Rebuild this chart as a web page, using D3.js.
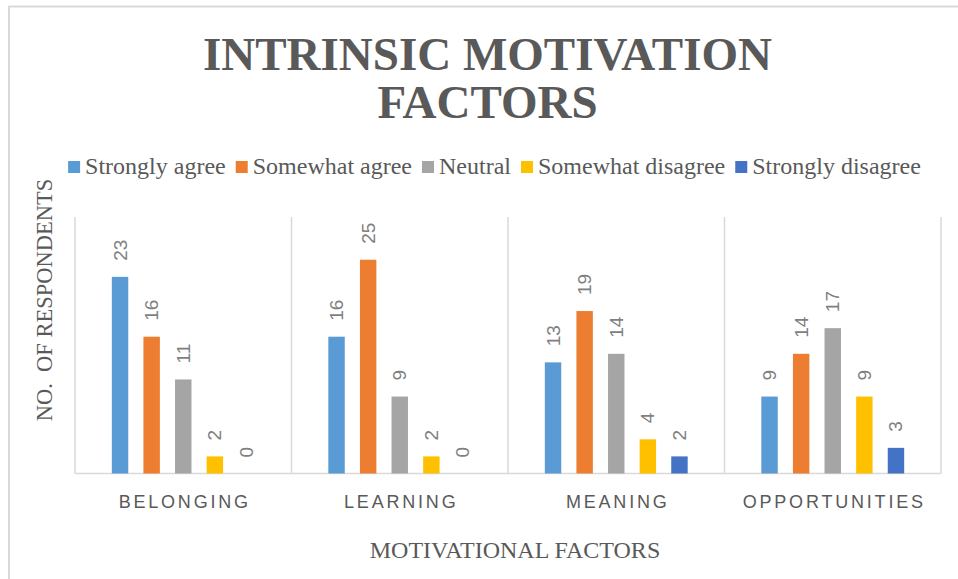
<!DOCTYPE html>
<html>
<head>
<meta charset="utf-8">
<script src="https://cdn.jsdelivr.net/npm/d3@7"></script>
<style>
  body { margin: 0; background: #fff; }
  svg { display: block; }
</style>
</head>
<body>
<script>
// data
const categories = ["BELONGING", "LEARNING", "MEANING", "OPPORTUNITIES"]
const series = ["Strongly agree", "Somewhat agree", "Neutral", "Somewhat disagree", "Strongly disagree"]
const colors = ["#5b9bd5", "#ed7d31", "#a5a5a5", "#ffc000", "#4472c4"]
const stronglyAgree = [23, 16, 13, 9]
const somewhatAgree = [16, 25, 19, 14]
const neutral = [11, 9, 14, 17]
const somewhatDisagree = [2, 2, 4, 9]
const stronglyDisagree = [0, 0, 2, 3]
const values = [stronglyAgree, somewhatAgree, neutral, somewhatDisagree, stronglyDisagree]

const width = 958, height = 579
const serif = "'Liberation Serif', 'Times New Roman', serif"
const sans = "'Liberation Sans', Arial, sans-serif"

const svg = d3.select("body").append("svg").attr("width", width).attr("height", height)

// chart frame
svg.append("path")
  .attr("d", `M9,${height} V6.5 H${width}`)
  .attr("fill", "none").attr("stroke", "#d9d9d9").attr("stroke-width", 2)

// title (2 lines)
svg.append("text").attr("x", 487.5).attr("y", 70).attr("text-anchor", "middle")
  .attr("font-family", serif).attr("font-weight", "bold").attr("font-size", 47)
  .attr("fill", "#595959").text("INTRINSIC MOTIVATION")
svg.append("text").attr("x", 487.5).attr("y", 118).attr("text-anchor", "middle")
  .attr("font-family", serif).attr("font-weight", "bold").attr("font-size", 47)
  .attr("fill", "#595959").text("FACTORS")

// scales
const x0 = d3.scaleBand().domain(categories).range([75, 941]).padding(0)
const x1 = d3.scaleBand().domain(series).range([0, x0.bandwidth()]).paddingInner(0.48).paddingOuter(1.165)
const y = d3.scaleLinear().domain([0, 30]).range([473.5, 217])

// gridlines at category boundaries
const bounds = categories.map(c => x0(c)).concat([x0.range()[1]])
svg.append("g").selectAll("line").data(bounds).join("line")
  .attr("x1", d => d).attr("x2", d => d)
  .attr("y1", y(30)).attr("y2", y(0))
  .attr("stroke", "#d9d9d9").attr("stroke-width", 1.5)
svg.append("line").attr("x1", x0.range()[0]).attr("x2", x0.range()[1])
  .attr("y1", y(0)).attr("y2", y(0))
  .attr("stroke", "#d9d9d9").attr("stroke-width", 1.5)

// bars + labels
const groups = svg.append("g").selectAll("g").data(categories).join("g")
  .attr("transform", d => `translate(${x0(d)},0)`)

const cells = groups.selectAll("g").data((c, ci) => series.map((s, si) => ({ s, si, v: values[si][ci] })))
  .join("g")

cells.append("rect")
  .attr("x", d => x1(d.s)).attr("width", x1.bandwidth())
  .attr("y", d => y(d.v)).attr("height", d => y(0) - y(d.v))
  .attr("fill", d => colors[d.si])

cells.append("text")
  .attr("transform", d => `translate(${x1(d.s) + x1.bandwidth() / 2},${y(d.v) - 16}) rotate(-90)`)
  .attr("dominant-baseline", "central")
  .attr("font-family", sans).attr("font-size", 19).attr("fill", "#7f7f7f")
  .text(d => d.v)

// category axis labels
svg.append("g").selectAll("text").data(categories).join("text")
  .attr("x", d => x0(d) + x0.bandwidth() / 2 + 1.5).attr("y", 508)
  .attr("text-anchor", "middle")
  .attr("font-family", sans).attr("font-size", 18).attr("letter-spacing", 2.8)
  .attr("fill", "#595959").text(d => d)

// axis titles
svg.append("text").attr("transform", "translate(52,300) rotate(-90)")
  .attr("text-anchor", "middle").attr("font-family", serif).attr("font-size", 22.5)
  .attr("fill", "#595959").attr("xml:space", "preserve").text("NO.  OF RESPONDENTS")
svg.append("text").attr("x", 515).attr("y", 558).attr("text-anchor", "middle")
  .attr("font-family", serif).attr("font-size", 24)
  .attr("fill", "#595959").text("MOTIVATIONAL FACTORS")

// legend
const legend = svg.append("g")
let lx = 0
series.forEach((s, i) => {
  const item = legend.append("g").attr("transform", `translate(${lx},0)`)
  item.append("rect").attr("x", 0).attr("y", 161).attr("width", 12).attr("height", 12).attr("fill", colors[i])
  const t = item.append("text").attr("x", 17).attr("y", 174)
    .attr("font-family", serif).attr("font-size", 24).attr("fill", "#595959").text(s)
  lx += 17 + t.node().getComputedTextLength() + 10
})
const legendW = lx - 10
legend.attr("transform", `translate(${494.5 - legendW / 2},0)`)
</script>
</body>
</html>
